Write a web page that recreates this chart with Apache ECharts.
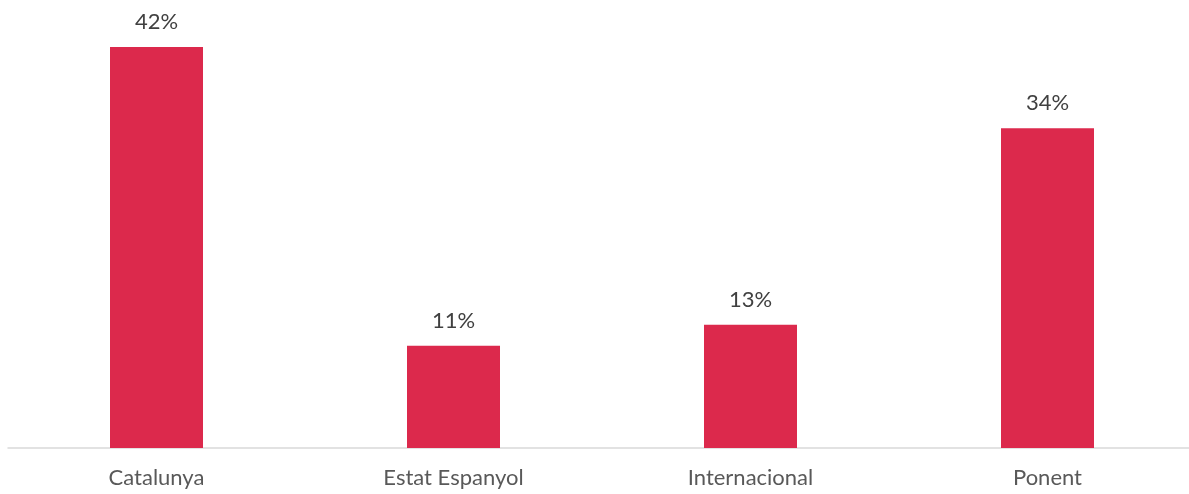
<!DOCTYPE html>
<html>
<head>
<meta charset="utf-8">
<script src="https://cdn.jsdelivr.net/npm/echarts@6/dist/echarts.min.js"></script>
<style>
html,body{margin:0;padding:0;background:#fff;}
#chart{width:1189px;height:494px;}
</style>
</head>
<body>
<div id="chart"></div>
<script>
const categories = ['Catalunya', 'Estat Espanyol', 'Internacional', 'Ponent'];
const values = [42.0, 10.7, 12.9, 33.5];

const chart = echarts.init(document.getElementById('chart'), null, {renderer: 'canvas'});
chart.setOption({
  animation: false,
  grid: {left: 8, width: 1188, top: 47, bottom: 46, containLabel: false, outerBoundsMode: 'none'},
  xAxis: {
    type: 'category',
    data: categories,
    axisLine: {show: true, lineStyle: {color: '#d9d9d9', width: 1.5}},
    axisTick: {show: false},
    axisLabel: {color: '#595959', fontSize: 22, fontFamily: 'Lato', margin: 19}
  },
  yAxis: {
    type: 'value',
    min: 0,
    max: 42,
    show: false,
    splitLine: {show: false}
  },
  series: [{
    type: 'bar',
    data: values,
    barWidth: 93,
    itemStyle: {color: '#dc294c'},
    label: {
      show: true,
      position: 'top',
      distance: 14,
      color: '#404040',
      fontSize: 22,
      fontFamily: 'Lato',
      formatter: p => Math.round(p.value) + '%'
    }
  }]
});
</script>
</body>
</html>
